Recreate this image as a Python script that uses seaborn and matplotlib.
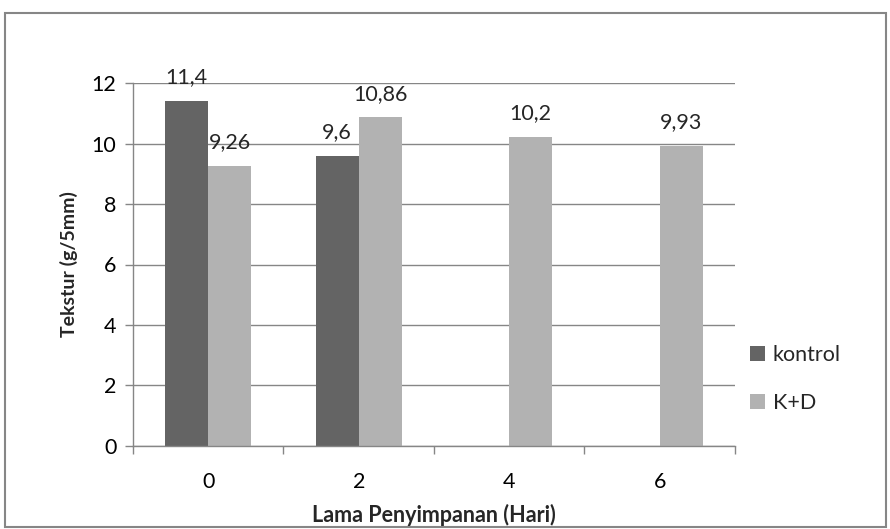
import matplotlib
matplotlib.use('Agg')
import matplotlib.pyplot as plt
from matplotlib.patches import Rectangle
from matplotlib.ticker import FixedLocator
import numpy as np
import pandas as pd
import seaborn as sns

# data
days = ['0', '2', '4', '6']
kontrol = [11.4, 9.6, np.nan, np.nan]
k_d = [9.26, 10.86, 10.2, 9.93]
series_names = ['kontrol', 'K+D']
y_ticks = [0, 2, 4, 6, 8, 10, 12]

df = pd.DataFrame({
    'hari': days * 2,
    'tekstur': kontrol + k_d,
    'seri': [series_names[0]] * len(days) + [series_names[1]] * len(days),
})

sns.set_theme(style='white')
plt.rcParams['font.family'] = ['Lato', 'DejaVu Sans']

grid_gray = '#868686'
text_color = '#000000'

fig = plt.figure(figsize=(8.9, 5.29), dpi=100)
ax = fig.add_axes([0.1494, 0.1569, 0.6764, 0.6862])

sns.barplot(data=df, x='hari', y='tekstur', hue='seri', order=days,
            hue_order=series_names, palette=['#646464', '#b2b2b2'],
            width=0.573, ax=ax, saturation=1, errorbar=None, linewidth=0)

ax.set_ylim(0, 12)
ax.set_xlim(-0.5, len(days) - 0.5)
ax.set_yticks(y_ticks)
ax.yaxis.grid(True, color=grid_gray, linewidth=1)
ax.set_axisbelow(True)

for side in ['top', 'right']:
    ax.spines[side].set_visible(False)
for side in ['left', 'bottom']:
    ax.spines[side].set_color(grid_gray)
    ax.spines[side].set_linewidth(1)

# x tick marks sit between categories, like the spreadsheet chart
ax.xaxis.set_minor_locator(FixedLocator(np.arange(-0.5, len(days), 1.0)))
ax.tick_params(axis='x', which='major', length=0, labelsize=15.5, pad=19, colors=text_color)
ax.tick_params(axis='x', which='minor', bottom=True, length=6, width=1, color=grid_gray)
ax.tick_params(axis='y', left=True, length=6, width=1, color=grid_gray,
               labelsize=15.5, pad=6, labelcolor=text_color)

ax.set_xlabel('Lama Penyimpanan (Hari)', fontsize=15.5, fontweight='bold', labelpad=8)
ax.set_ylabel('Tekstur (g/5mm)', fontsize=14, fontweight='bold', labelpad=10)

for container in ax.containers:
    labels = [f'{v:g}'.replace('.', ',') if not np.isnan(v) else ''
              for v in container.datavalues]
    ax.bar_label(container, labels=labels, padding=10, fontsize=15.5)

ax.legend(loc='center left', bbox_to_anchor=(1.0, 0.185), frameon=False,
          fontsize=15.5, handlelength=0.7, handleheight=0.7, handletextpad=0.35,
          labelspacing=1.3, borderaxespad=0.3)

# outer chart border
fig.patches.append(Rectangle((0.006, 0.004), 0.99, 0.972, transform=fig.transFigure,
                             fill=False, edgecolor=grid_gray, linewidth=1.5))

fig.savefig('out.png', dpi=100)
